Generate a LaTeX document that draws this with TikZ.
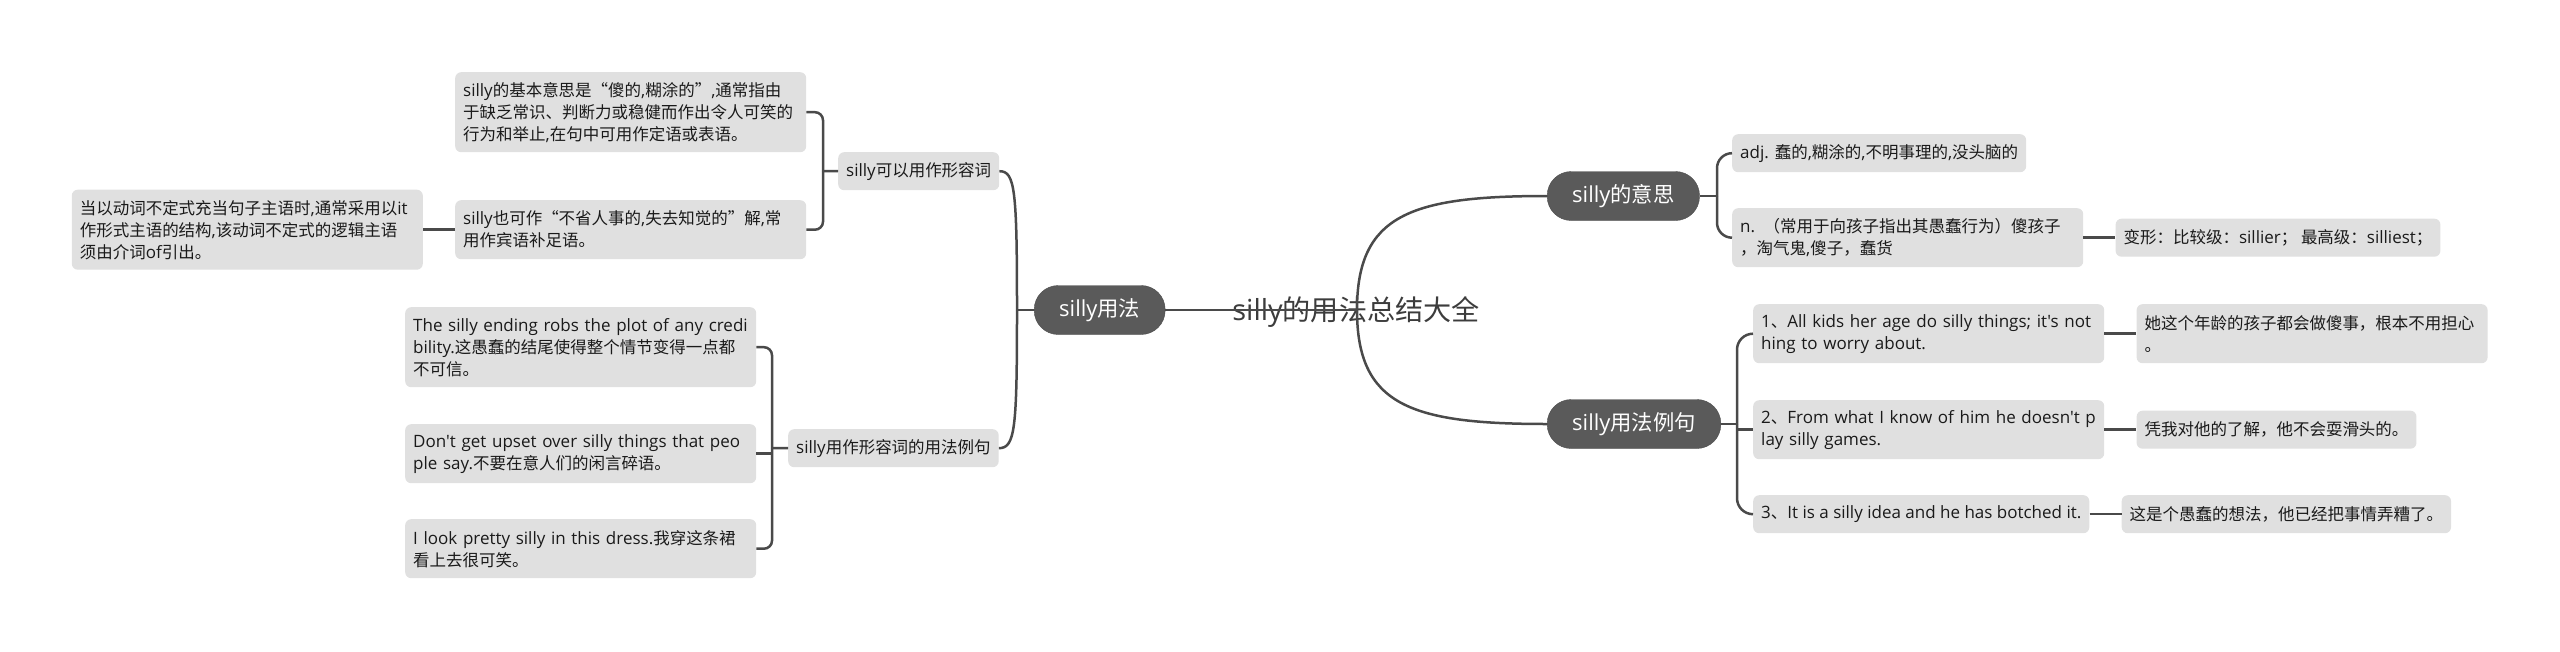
\documentclass[tikz,border=0pt]{standalone}
\usepackage{fontspec}
\setmainfont{Open Sans}[Ligatures=TeXOff]
\newfontfamily\cjk{Noto Sans CJK SC}[Scale=0.97]
% switch to the CJK face for Chinese characters and punctuation
\XeTeXinterchartokenstate=1
\newXeTeXintercharclass\cjkcls
\newcount\cjkcc
\def\cjkrange#1#2{\cjkcc=#1 \loop\XeTeXcharclass\cjkcc=\cjkcls
  \ifnum\cjkcc<#2 \advance\cjkcc by 1 \repeat}
\cjkrange{"201C}{"201D}
\cjkrange{"3000}{"303F}
\cjkrange{"4E00}{"9FFF}
\cjkrange{"FF00}{"FFEF}
\XeTeXinterchartoks 0 \cjkcls = {\cjk}
\XeTeXinterchartoks 4095 \cjkcls = {\cjk}
\XeTeXinterchartoks \cjkcls 0 = {\rmfamily}
\XeTeXinterchartoks 4095 0 = {\rmfamily}
\usepackage{tikz}
\usetikzlibrary{positioning}
\definecolor{mapDark}{HTML}{5A5A5A}
\definecolor{mapLight}{HTML}{E0E0E0}
\definecolor{mapLine}{HTML}{4A4A4A}
\definecolor{mapText}{HTML}{1A1A1A}

\begin{document}
\begin{tikzpicture}[
  x=1pt, y=-1pt,
  font=\fontsize{17}{22}\selectfont,
  topic/.style={fill=mapDark, draw=mapDark!85!black, text=white, rounded corners=24pt,
    minimum height=49pt, inner xsep=25pt, font=\fontsize{22}{26}\selectfont},
  leaf/.style={fill=mapLight, text=mapText, rounded corners=6pt, align=left,
    inner xsep=8pt, inner ysep=3pt, minimum height=38pt, anchor=north west},
  two/.style={leaf, minimum height=59pt, text width=335pt},
  three/.style={leaf, minimum height=80pt, text width=335pt},
  conn/.style={draw=mapLine, line width=2.5pt}
]
\fill[white] (0,0) rectangle (2560,651);

% centre
\node[font=\fontsize{29}{34}\selectfont, text=mapText!85] (root) at (1356,312) {silly的用法总结大全};
\coordinate (hub) at (1357,310);

% left branch
\node[topic, anchor=west] (usage) at (1034,310) {silly用法};
\node[leaf] (adjuse) at (838,152) {silly可以用作形容词};
\node[leaf] (exuse) at (788,429) {silly用作形容词的用法例句};
\node[three] (basic) at (455,72)
  {silly的基本意思是“傻的,糊涂的”,通常指由\\于缺乏常识、判断力或稳健而作出令人可笑的\\行为和举止,在句中可用作定语或表语。};
\node[two] (also) at (455,200)
  {silly也可作“不省人事的,失去知觉的”解,常\\用作宾语补足语。};
\node[three, left=32pt of also] (infin)
  {当以动词不定式充当句子主语时,通常采用以it\\作形式主语的结构,该动词不定式的逻辑主语\\须由介词of引出。};
\node[three] (lex1) at (405,307)
  {The silly ending robs the plot of any credi\\bility.这愚蠢的结尾使得整个情节变得一点都\\不可信。};
\node[two] (lex2) at (405,424)
  {Don't get upset over silly things that peo\\ple say.不要在意人们的闲言碎语。};
\node[two] (lex3) at (405,519)
  {I look pretty silly in this dress.我穿这条裙\\看上去很可笑。};

% right branch: meaning
\node[topic, anchor=west] (meaning) at (1547,196) {silly的意思};
\node[leaf] (adj) at (1732,134) {adj. 蠢的,糊涂的,不明事理的,没头脑的};
\node[two] (noun) at (1732,208)
  {n. （常用于向孩子指出其愚蠢行为）傻孩子\\，淘气鬼,傻子，蠢货};
\node[leaf, right=32pt of noun] (forms) {变形：比较级：sillier； 最高级：silliest；};

% right branch: examples
\node[topic, anchor=west] (usex) at (1547,424) {silly用法例句};
\node[two] (ex1) at (1753,304)
  {1、All kids her age do silly things; it's not\\hing to worry about.};
\node[two, right=32pt of ex1] (ex1zh)
  {她这个年龄的孩子都会做傻事，根本不用担心\\。};
\node[two] (ex2) at (1753,400)
  {2、From what I know of him he doesn't p\\lay silly games.};
\node[leaf, right=32pt of ex2] (ex2zh) {凭我对他的了解，他不会耍滑头的。};
\node[leaf] (ex3) at (1753,495) {3、It is a silly idea and he has botched it.};
\node[leaf, right=32pt of ex3] (ex3zh) {这是个愚蠢的想法，他已经把事情弄糟了。};

% connectors
\draw[conn] (usage.east) -- (hub);
\draw[conn] (hub) .. controls (1357,215) and (1410,196) .. (meaning.west);
\draw[conn] (hub) .. controls (1357,405) and (1410,424) .. (usex.west);

\coordinate (lj) at (1017,310);
\draw[conn] (usage.west) -- (lj);
\draw[conn] (lj) .. controls (1017,190) and (1015,171) .. (adjuse.east);
\draw[conn] (lj) .. controls (1017,430) and (1015,448) .. (exuse.east);

\coordinate (lb1) at (823,171);
\draw[conn] (adjuse.west) -- (lb1);
\draw[conn, rounded corners=8pt] (lb1) |- (basic.east);
\draw[conn, rounded corners=8pt] (lb1) |- (also.east);
\draw[conn] (also.west) -- (infin.east);

\coordinate (lb2) at (772,448);
\draw[conn] (exuse.west) -- (lb2);
\draw[conn, rounded corners=8pt] (lb2) |- (lex1.east);
\draw[conn] (lb2) |- (lex2.east);
\draw[conn, rounded corners=8pt] (lb2) |- (lex3.east);

\coordinate (rb1) at (1717,196);
\draw[conn] (meaning.east) -- (rb1);
\draw[conn, rounded corners=15pt] (rb1) |- (adj.west);
\draw[conn, rounded corners=15pt] (rb1) |- (noun.west);
\draw[conn] (noun.east) -- (forms.west);

\coordinate (rb2) at (1737,424);
\draw[conn] (usex.east) -- (rb2);
\draw[conn, rounded corners=16pt] (rb2) |- (ex1.west);
\draw[conn] (rb2) |- (ex2.west);
\draw[conn, rounded corners=16pt] (rb2) |- (ex3.west);
\draw[conn] (ex1.east) -- (ex1zh.west);
\draw[conn] (ex2.east) -- (ex2zh.west);
\draw[conn] (ex3.east) -- (ex3zh.west);
\end{tikzpicture}
\end{document}
